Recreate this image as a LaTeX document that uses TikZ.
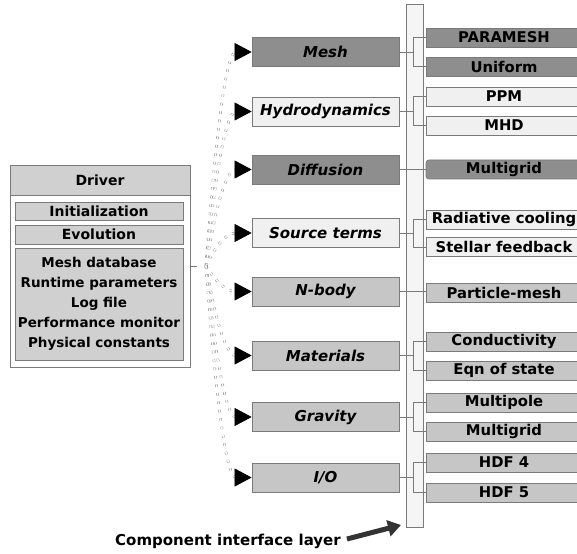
\documentclass[tikz,border=0pt]{standalone}
\usepackage{fontspec}
\setmainfont{DejaVu Sans}
\usetikzlibrary{arrows.meta}
\definecolor{dk}{HTML}{8E8E8E}
\definecolor{md}{HTML}{C6C6C6}
\definecolor{lt}{HTML}{F0F0F0}
\definecolor{bd}{HTML}{7A7A7A}
\definecolor{hd}{HTML}{D0D0D0}
\definecolor{barfill}{HTML}{F5F5F5}
\begin{document}
\begin{tikzpicture}[x=1pt,y=-1pt,
  box/.style={draw=bd, line width=0.8pt, inner sep=0pt},
  midbox/.style={box, minimum width=147pt, minimum height=29pt, font=\fontsize{15}{17}\selectfont\bfseries\itshape},
  rbox/.style={box, minimum width=156pt, minimum height=19pt, font=\fontsize{14.8}{16}\selectfont\bfseries},
  dbox/.style={box, minimum width=168pt, font=\fontsize{14}{16}\selectfont\bfseries},
  conn/.style={draw=bd, line width=0.7pt},
  tip/.style={-{Triangle[length=17pt,width=18pt]}, line width=0.6pt, black},
  fan/.style={draw=black!50, line width=0.45pt, double=white, double distance=1.6pt, dash pattern=on 2.5pt off 6pt},
]
\useasboundingbox[fill=white] (0,0) rectangle (577,553);

% interface bar
\node[box, fill=barfill, minimum width=17pt, minimum height=523pt] (bar) at (414.5,265.5) {};

% driver
\node[box, fill=white, minimum width=180pt, minimum height=202pt] (drv) at (100,266) {};
\node[box, fill=hd, minimum width=180pt, minimum height=30pt, font=\fontsize{14}{16}\selectfont\bfseries] (drvh) at (100,180) {Driver};
\node[dbox, fill=hd, minimum height=18pt] (init) at (99,211) {Initialization};
\node[dbox, fill=hd, minimum height=19pt] (evol) at (99,234.5) {Evolution};
\node[dbox, fill=hd, minimum height=112pt, align=center, font=\fontsize{13.5}{20}\selectfont\bfseries] (data) at (99,304)
  {Mesh database\\Runtime parameters\\Log file\\Performance monitor\\Physical constants};

% middle column
\node[midbox, fill=dk] (mesh) at (325.5,52) {Mesh};
\node[midbox, fill=lt] (hydro) at (325.5,111.5) {Hydrodynamics};
\node[midbox, fill=dk] (diff) at (325.5,169.5) {Diffusion};
\node[midbox, fill=lt] (src) at (325.5,233) {Source terms};
\node[midbox, fill=md] (nbody) at (325.5,291.5) {N-body};
\node[midbox, fill=md] (mat) at (325.5,355.5) {Materials};
\node[midbox, fill=md] (grav) at (325.5,417) {Gravity};
\node[midbox, fill=md] (io) at (325.5,477.5) {I/O};

% right column
\node[rbox, fill=dk] (paramesh) at (504,37.5) {PARAMESH};
\node[rbox, fill=dk] (uniform) at (504,66.5) {Uniform};
\node[rbox, fill=lt] (ppm) at (504,96.5) {PPM};
\node[rbox, fill=lt] (mhd) at (504,125.5) {MHD};
\node[rbox, fill=dk, rounded corners=3pt] (mgrid) at (504,169.5) {Multigrid};
\node[rbox, fill=lt] (rad) at (504,219.5) {Radiative cooling};
\node[rbox, fill=lt] (stel) at (504,247) {Stellar feedback};
\node[rbox, fill=md] (pm) at (504,293) {Particle-mesh};
\node[rbox, fill=md] (cond) at (504,341.5) {Conductivity};
\node[rbox, fill=md] (eos) at (504,370.5) {Eqn of state};
\node[rbox, fill=md] (mpole) at (504,402.5) {Multipole};
\node[rbox, fill=md] (mgrid2) at (504,431.5) {Multigrid};
\node[rbox, fill=md] (hdf4) at (504,462.5) {HDF 4};
\node[rbox, fill=md] (hdf5) at (504,492.5) {HDF 5};

% junctions
\coordinate (jmesh) at (413,52);
\coordinate (jhydro) at (413,111.5);
\coordinate (jsrc) at (413,233);
\coordinate (jmat) at (413,355.5);
\coordinate (jgrav) at (413,417);
\coordinate (jio) at (413,477.5);

\draw[conn] (mesh.east) -- (jmesh);
\draw[conn] (jmesh) |- (paramesh.west);
\draw[conn] (jmesh) |- (uniform.west);
\draw[conn] (hydro.east) -- (jhydro);
\draw[conn] (jhydro) |- (ppm.west);
\draw[conn] (jhydro) |- (mhd.west);
\draw[conn] (diff.east) -- (mgrid.west);
\draw[conn] (src.east) -- (jsrc);
\draw[conn] (jsrc) |- (rad.west);
\draw[conn] (jsrc) |- (stel.west);
\draw[conn] (nbody.east) -- (nbody.east -| pm.west);
\draw[conn] (mat.east) -- (jmat);
\draw[conn] (jmat) |- (cond.west);
\draw[conn] (jmat) |- (eos.west);
\draw[conn] (grav.east) -- (jgrav);
\draw[conn] (jgrav) |- (mpole.west);
\draw[conn] (jgrav) |- (mgrid2.west);
\draw[conn] (io.east) -- (jio);
\draw[conn] (jio) |- (hdf4.west);
\draw[conn] (jio) |- (hdf5.west);

% arrow tails and fan
\coordinate (dl) at (197,266);
\coordinate (hub) at (206,266);
\draw[conn] (drv.east) -- (dl);
\foreach \n/\y in {mesh/52, hydro/111.5, diff/169.5, src/233, nbody/291.5, mat/355.5, grav/417, io/477.5}{
  \coordinate (t\n) at (236,\y);
  \draw[fan] (hub) .. controls (213,{266+(\y-266)*0.45}) and (224,\y) .. (t\n);
  \draw[tip] (t\n) -- (\n.west);
}

% bottom label
\node[font=\fontsize{15}{17}\selectfont\bfseries, anchor=west, inner sep=0pt] (cil) at (115,541) {Component interface layer};
\coordinate (aend) at (401,525);
\draw[line width=5pt, draw=black!80, -{Triangle[length=13pt,width=16pt]}] ([xshift=6pt,yshift=2pt]cil.east) -- (aend);
\end{tikzpicture}
\end{document}
